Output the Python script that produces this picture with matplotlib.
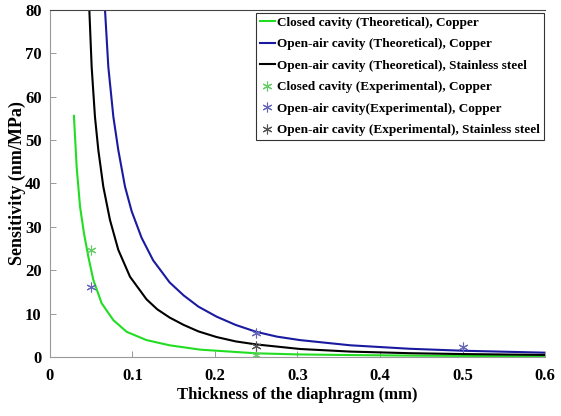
import numpy as np
import matplotlib
matplotlib.use('Agg')
import matplotlib.pyplot as plt

plt.rcParams['font.family'] = ['Liberation Serif', 'DejaVu Serif']
plt.rcParams['font.weight'] = 'bold'

# theoretical curves (thickness mm, sensitivity nm/MPa)
h_closed_cu = [0.029, 0.0323, 0.0364, 0.0412, 0.0465, 0.0525, 0.0626, 0.0768, 0.093, 0.117,
               0.145, 0.182, 0.25, 0.30, 0.364, 0.45, 0.60]
s_closed_cu = [55.6, 43.9, 34.7, 28.5, 23.1, 17.8, 12.4, 8.5, 5.8, 3.9,
               2.7, 1.7, 0.85, 0.6, 0.45, 0.3, 0.17]

h_open_cu = [0.0667, 0.0707, 0.0768, 0.0828, 0.0909, 0.099, 0.111, 0.125, 0.145, 0.162,
             0.180, 0.202, 0.225, 0.25, 0.275, 0.303, 0.364, 0.436, 0.50, 0.60]
s_open_cu = [80.0, 66.9, 55.4, 47.7, 39.3, 33.6, 27.5, 22.3, 17.2, 14.2,
             11.6, 9.3, 7.4, 5.8, 4.7, 3.9, 2.7, 1.9, 1.45, 1.0]

h_open_ss = [0.0477, 0.0505, 0.0545, 0.0586, 0.0646, 0.0727, 0.0828, 0.097, 0.117, 0.130,
             0.145, 0.162, 0.180, 0.202, 0.225, 0.25, 0.303, 0.364, 0.436, 0.50, 0.60]
s_open_ss = [80.0, 66.9, 55.4, 47.7, 39.3, 31.6, 24.7, 18.5, 13.3, 11.0,
             9.1, 7.4, 5.9, 4.6, 3.6, 2.9, 1.85, 1.25, 0.88, 0.68, 0.48]

# experimental points
hx_closed_cu = [0.05, 0.25]
sx_closed_cu = [24.7, 0.5]
hx_open_cu = [0.05, 0.25, 0.5]
sx_open_cu = [16.1, 5.6, 2.4]
hx_open_ss = [0.25]
sx_open_ss = [2.6]

fig = plt.figure(figsize=(5.61, 4.16), dpi=100)
ax = fig.add_axes([0.0891, 0.1418, 0.8824, 0.8342])

ax.plot(h_closed_cu, s_closed_cu, color='#22dd22', lw=1.5, label='Closed cavity (Theoretical), Copper')
ax.plot(h_open_cu, s_open_cu, color='#1a1aa0', lw=1.5, label='Open-air cavity (Theoretical), Copper')
ax.plot(h_open_ss, s_open_ss, color='black', lw=1.5, label='Open-air cavity (Theoretical), Stainless steel')
ax.plot(hx_closed_cu, sx_closed_cu, ls='none', marker=(6, 2, 0), ms=7, mew=0.8, color='#66cc66',
        label='Closed cavity (Experimental), Copper')
ax.plot(hx_open_cu, sx_open_cu, ls='none', marker=(6, 2, 0), ms=7, mew=0.8, color='#6666bb',
        label='Open-air cavity(Experimental), Copper')
ax.plot(hx_open_ss, sx_open_ss, ls='none', marker=(6, 2, 0), ms=7, mew=0.8, color='#555555',
        label='Open-air cavity (Experimental), Stainless steel')

ax.set_xlim(0, 0.6)
ax.set_ylim(0, 80)
ax.set_xticks([0, 0.1, 0.2, 0.3, 0.4, 0.5, 0.6])
ax.set_xticklabels(['0', '0.1', '0.2', '0.3', '0.4', '0.5', '0.6'])
ax.set_yticks(range(0, 81, 10))
ax.tick_params(direction='in', length=4, width=0.6, color='#888888', labelsize=12)
ax.tick_params(axis='x', pad=8)
ax.tick_params(axis='y', pad=6)
ax.spines['right'].set_visible(False)
for s in ['left', 'bottom']:
    ax.spines[s].set_color('#999999')
ax.spines['top'].set_color('#444444')

ax.set_xlabel('Thickness of the diaphragm (mm)', fontsize=12, fontweight='bold', labelpad=2)
ax.set_ylabel('Sensitivity (nm/MPa)', fontsize=13, fontweight='bold', labelpad=-1)

leg = ax.legend(loc='upper right', bbox_to_anchor=(0.997, 0.992), fontsize=9.5, frameon=True,
                fancybox=False, edgecolor='black', handlelength=1.2, handletextpad=0.1,
                borderpad=0.3, labelspacing=0.7, borderaxespad=0.0)
leg.get_frame().set_linewidth(0.8)
for t in leg.get_texts():
    t.set_fontweight('bold')

fig.savefig('out.png', dpi=100)
